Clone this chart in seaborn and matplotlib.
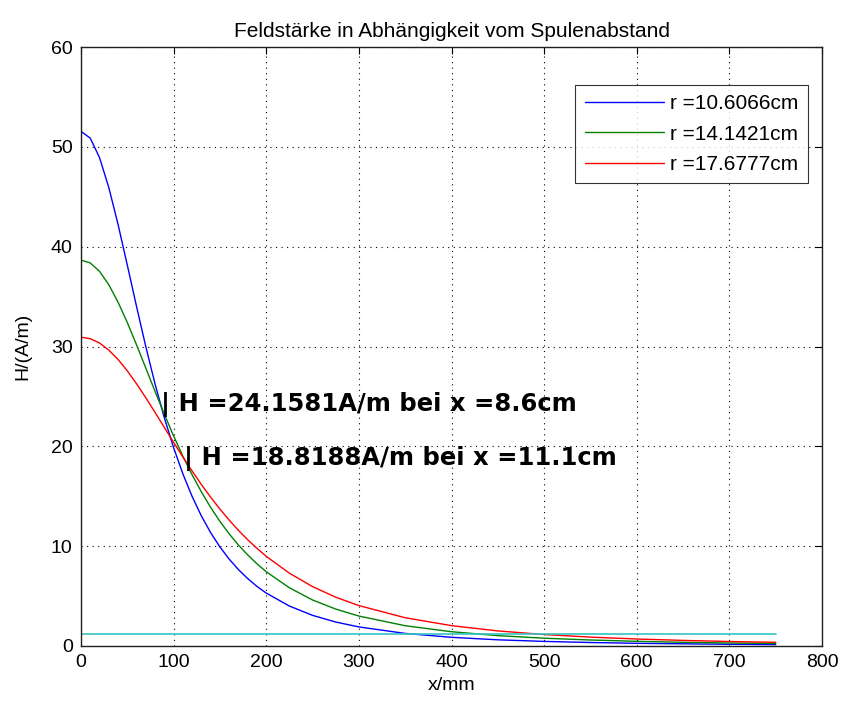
import numpy as np
import pandas as pd
import matplotlib
matplotlib.use("Agg")
import matplotlib.pyplot as plt
import seaborn as sns

# distance from coil (mm)
x_mm = [0, 10, 20, 30, 40, 50, 60, 70, 80, 90, 100, 110, 120, 130, 140, 150,
        160, 170, 180, 190, 200, 225, 250, 275, 300, 350, 400, 450, 500, 550,
        600, 650, 700, 750]

# field strength H in A/m for three coil radii
h_r106 = [51.55, 50.87, 48.92, 45.93, 42.23, 38.15, 33.99, 29.97, 26.23, 22.85,
          19.86, 17.24, 14.97, 13.02, 11.35, 9.92, 8.70, 7.65, 6.75, 5.97, 5.30,
          4.00, 3.07, 2.40, 1.91, 1.26, 0.87, 0.62, 0.46, 0.35, 0.27, 0.22, 0.17, 0.14]
h_r141 = [38.66, 38.37, 37.53, 36.19, 34.44, 32.40, 30.16, 27.83, 25.49, 23.21,
          21.04, 19.01, 17.14, 15.43, 13.88, 12.48, 11.23, 10.11, 9.12, 8.23, 7.44,
          5.83, 4.61, 3.70, 3.00, 2.03, 1.43, 1.04, 0.78, 0.60, 0.47, 0.37, 0.30, 0.25]
h_r177 = [30.93, 30.78, 30.35, 29.64, 28.70, 27.56, 26.26, 24.86, 23.39, 21.89,
          20.39, 18.93, 17.52, 16.17, 14.90, 13.71, 12.61, 11.58, 10.64, 9.78, 8.98,
          7.29, 5.95, 4.89, 4.05, 2.83, 2.04, 1.51, 1.15, 0.89, 0.70, 0.56, 0.45, 0.37]

labels = ["r =10.6066cm", "r =14.1421cm", "r =17.6777cm"]
colors = ["#0000ff", "#008000", "#ff0000"]

# reference level
h_ref = 1.2
x_ref = [0, 750]

# marked points
marks_x = [86, 111]
marks_h = [24.1581, 18.8188]

df = pd.DataFrame({
    "x": x_mm * 3,
    "H": h_r106 + h_r141 + h_r177,
    "r": [labels[0]] * len(x_mm) + [labels[1]] * len(x_mm) + [labels[2]] * len(x_mm),
})

sns.set_style("white")
plt.rcParams["font.family"] = ["Liberation Sans", "DejaVu Sans"]
plt.rcParams["text.color"] = "black"
plt.rcParams["axes.labelcolor"] = "black"

fig = plt.figure(figsize=(8.63, 7.08), dpi=100)
ax = fig.add_axes([81 / 863, 62 / 708, 741 / 863, 599 / 708])

sns.lineplot(data=df, x="x", y="H", hue="r", hue_order=labels,
             palette=dict(zip(labels, colors)), linewidth=1.0, ax=ax,
             estimator=None, sort=False)
sns.lineplot(x=x_ref, y=[h_ref, h_ref], color="#33c4c4", linewidth=1.2,
             ax=ax, legend=False)

for xm, hm in zip(marks_x, marks_h):
    ax.text(xm, hm, f"| H ={hm:.4f}A/m bei x ={xm / 10:.1f}cm",
            fontsize=17.5, fontweight="bold", family="DejaVu Sans",
            ha="left", va="center", color="black")

ax.set_xlim(0, 800)
ax.set_ylim(0, 60)
ax.set_xticks(range(0, 801, 100))
ax.set_yticks(range(0, 61, 10))
ax.grid(True, color="black", linestyle=(0, (1, 4)), linewidth=0.8)
ax.tick_params(direction="in", length=5, width=0.8, top=True, right=True,
               labelsize=14, colors="black", pad=6)
for s in ax.spines.values():
    s.set_color("#202020")
    s.set_linewidth(1.0)

ax.set_xlabel("x/mm", fontsize=14, labelpad=4)
ax.set_ylabel("H/(A/m)", fontsize=14, labelpad=14)
ax.set_title("Feldstärke in Abhängigkeit vom Spulenabstand", fontsize=15, pad=7)

leg = ax.legend(loc="upper right", bbox_to_anchor=(0.981, 0.937), fontsize=15,
                frameon=True, fancybox=False, edgecolor="black",
                handlelength=3.8, handletextpad=0.3, borderpad=0.45,
                labelspacing=0.55, borderaxespad=0)
leg.get_frame().set_linewidth(0.8)
leg.set_title(None)

fig.savefig("out.png", dpi=100, facecolor="white")
